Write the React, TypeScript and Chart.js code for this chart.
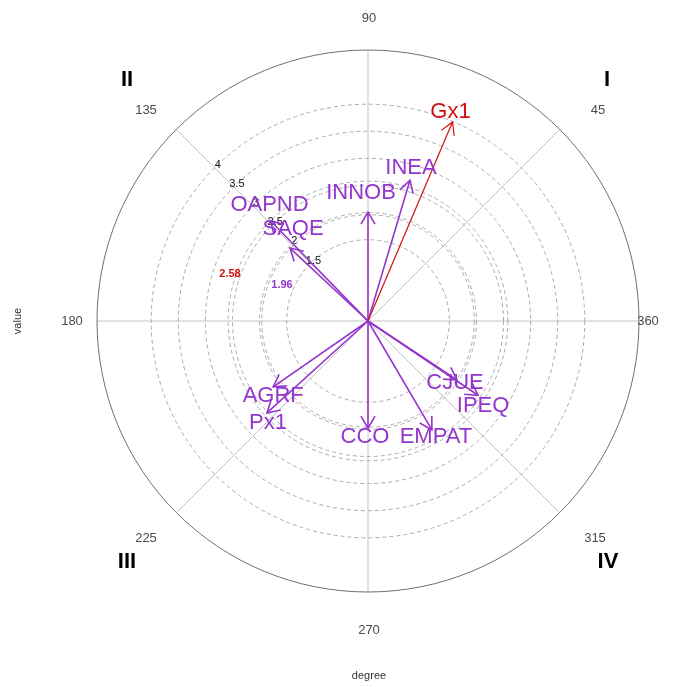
import { useEffect, useRef } from "react";
import { Chart, registerables } from "chart.js";

Chart.register(...registerables);

// ---- data ----
const vectorNames = ["Gx1", "INEA", "INNOB", "OAPND", "SAQE", "AGRF", "Px1", "CCO", "EMPAT", "CJUE", "IPEQ"];
const vectorValues = [3.99, 2.71, 2.01, 2.58, 1.97, 2.13, 2.52, 1.98, 2.33, 1.97, 2.45];
const vectorAngles = [67, 73.4, 90, 134.2, 136.9, 214.8, 222.3, 270, 300.4, 326.5, 326];
const vectorGroups = ["red", "purple", "purple", "purple", "purple", "purple", "purple", "purple", "purple", "purple", "purple"];
const gridValues = [1.5, 2, 2.5, 3, 3.5, 4];
const gridLabels = ["1.5", "2", "2.5", "3", "3.5", "4"];
const criticalValues = [2.58, 1.96];
const criticalLabels = ["2.58", "1.96"];
const degreeTicks = [45, 90, 135, 180, 225, 270, 315, 360];
const degreeLabels = ["45", "90", "135", "180", "225", "270", "315", "360"];
const quadrantLabels = ["I", "II", "III", "IV"];
const radialMax = 5;

// ---- styles ----
const COLORS: Record<string, string> = { red: "#D01010", purple: "#9436CC" };
const LINE_WIDTH: Record<string, number> = { red: 1.2, purple: 1.6 };
const labelNudge: Record<string, [number, number]> = {
  Gx1: [-2, -10], INEA: [1, -12], INNOB: [-7, -19], OAPND: [-1, -16], SAQE: [3, -19],
  AGRF: [0, 9], Px1: [1, 10], CCO: [-3, 9], EMPAT: [4, 7], CJUE: [-2, 3], IPEQ: [5, 11],
};
const degreeLabelOffset: Record<number, [number, number]> = {
  45: [230, -211], 90: [1, -303], 135: [-222, -211], 180: [-296, 0],
  225: [-222, 217], 270: [1, 309], 315: [227, 217], 360: [280, 0],
};
const quadrantOffset: [number, number][] = [[239, -241], [-241, -241], [-241, 241], [240, 241]];
const criticalColors = ["#D01010", "#9436CC"];
const criticalLabelPos: [number, number][] = [[-138, -47], [-86, -36]];
const FONT = "'Liberation Sans', Arial, Helvetica, sans-serif";

const rad = (d: number) => (d * Math.PI) / 180;

const polarPlugin = {
  id: "polarDecor",
  beforeDatasetsDraw(chart: any) {
    const { ctx } = chart;
    const xs = chart.scales.x;
    const ys = chart.scales.y;
    const cx = xs.getPixelForValue(0);
    const cy = ys.getPixelForValue(0);
    const pr = (v: number) => xs.getPixelForValue(v) - cx;
    ctx.save();
    // spokes
    ctx.strokeStyle = "#C4C4C4";
    ctx.lineWidth = 1;
    degreeTicks.forEach((d) => {
      ctx.beginPath();
      ctx.moveTo(cx, cy);
      ctx.lineTo(xs.getPixelForValue(radialMax * Math.cos(rad(d))), ys.getPixelForValue(radialMax * Math.sin(rad(d))));
      ctx.stroke();
    });
    // dashed grid circles
    ctx.setLineDash([4, 3]);
    ctx.strokeStyle = "#ABABAB";
    gridValues.forEach((v) => {
      ctx.beginPath();
      ctx.arc(cx, cy, pr(v), 0, Math.PI * 2);
      ctx.stroke();
    });
    criticalValues.forEach((v) => {
      ctx.beginPath();
      ctx.arc(cx, cy, pr(v), 0, Math.PI * 2);
      ctx.stroke();
    });
    ctx.setLineDash([]);
    // outer circle
    ctx.strokeStyle = "#6E6E6E";
    ctx.beginPath();
    ctx.arc(cx, cy, pr(radialMax), 0, Math.PI * 2);
    ctx.stroke();
    // radial tick labels along 135 deg
    ctx.fillStyle = "#111";
    ctx.font = `11px ${FONT}`;
    ctx.textAlign = "center";
    ctx.textBaseline = "middle";
    gridValues.forEach((v, i) => {
      const x = xs.getPixelForValue(v * Math.cos(rad(135)));
      const y = ys.getPixelForValue(v * Math.sin(rad(135)));
      ctx.fillText(gridLabels[i], x + 3, y - 3);
    });
    // critical labels
    ctx.font = `bold 11px ${FONT}`;
    criticalLabels.forEach((t, i) => {
      ctx.fillStyle = criticalColors[i];
      ctx.fillText(t, cx + criticalLabelPos[i][0], cy + criticalLabelPos[i][1]);
    });
    // degree labels
    ctx.fillStyle = "#4A4A4A";
    ctx.font = `13px ${FONT}`;
    degreeTicks.forEach((d, i) => {
      const o = degreeLabelOffset[d];
      ctx.fillText(degreeLabels[i], cx + o[0], cy + o[1]);
    });
    // quadrant labels
    ctx.fillStyle = "#000";
    ctx.font = `bold 22px ${FONT}`;
    quadrantLabels.forEach((q, i) => {
      ctx.fillText(q, cx + quadrantOffset[i][0], cy + quadrantOffset[i][1]);
    });
    // axis titles
    ctx.fillStyle = "#333";
    ctx.font = `11px ${FONT}`;
    ctx.fillText("degree", cx + 1, 676);
    ctx.save();
    ctx.translate(18, cy);
    ctx.rotate(-Math.PI / 2);
    ctx.fillText("value", 0, 0);
    ctx.restore();
    ctx.restore();
  },
  afterDatasetsDraw(chart: any) {
    const { ctx } = chart;
    const xs = chart.scales.x;
    const ys = chart.scales.y;
    const cx = xs.getPixelForValue(0);
    const cy = ys.getPixelForValue(0);
    ctx.save();
    vectorNames.forEach((name, i) => {
      const r = vectorValues[i];
      const a = rad(vectorAngles[i]);
      const tx = xs.getPixelForValue(r * Math.cos(a));
      const ty = ys.getPixelForValue(r * Math.sin(a));
      const phi = Math.atan2(ty - cy, tx - cx);
      const col = COLORS[vectorGroups[i]];
      const L = 14;
      ctx.strokeStyle = col;
      ctx.lineWidth = LINE_WIDTH[vectorGroups[i]];
      ctx.beginPath();
      ctx.moveTo(tx - L * Math.cos(phi - rad(30)), ty - L * Math.sin(phi - rad(30)));
      ctx.lineTo(tx, ty);
      ctx.lineTo(tx - L * Math.cos(phi + rad(30)), ty - L * Math.sin(phi + rad(30)));
      ctx.stroke();
      const n = labelNudge[name] || [0, 0];
      ctx.fillStyle = col;
      ctx.font = `22px ${FONT}`;
      ctx.textAlign = "center";
      ctx.textBaseline = "middle";
      ctx.fillText(name, tx + n[0], ty + n[1]);
    });
    ctx.restore();
  },
};

export default function App() {
  const ref = useRef<HTMLCanvasElement | null>(null);
  useEffect(() => {
    if (!ref.current) return;
    const datasets = vectorNames.map((name, i) => {
      const a = rad(vectorAngles[i]);
      const g = vectorGroups[i];
      return {
        label: name,
        data: [
          { x: 0, y: 0 },
          { x: vectorValues[i] * Math.cos(a), y: vectorValues[i] * Math.sin(a) },
        ],
        showLine: true,
        borderColor: COLORS[g],
        backgroundColor: COLORS[g],
        borderWidth: LINE_WIDTH[g],
        pointRadius: 0,
        clip: false as any,
      };
    });
    const chart = new Chart(ref.current, {
      type: "scatter",
      data: { datasets },
      options: {
        animation: false,
        responsive: false,
        maintainAspectRatio: false,
        layout: { padding: { left: 97, right: 47, top: 50, bottom: 95 } },
        scales: {
          x: { type: "linear", min: -radialMax, max: radialMax, display: false },
          y: { type: "linear", min: -radialMax, max: radialMax, display: false },
        },
        plugins: { legend: { display: false }, tooltip: { enabled: false } },
      },
      plugins: [polarPlugin],
    });
    return () => chart.destroy();
  }, []);
  return (
    <div style={{ position: "fixed", left: 0, top: 0, width: 686, height: 687, background: "#fff" }}>
      <canvas ref={ref} width={686} height={687} style={{ display: "block" }} />
    </div>
  );
}
